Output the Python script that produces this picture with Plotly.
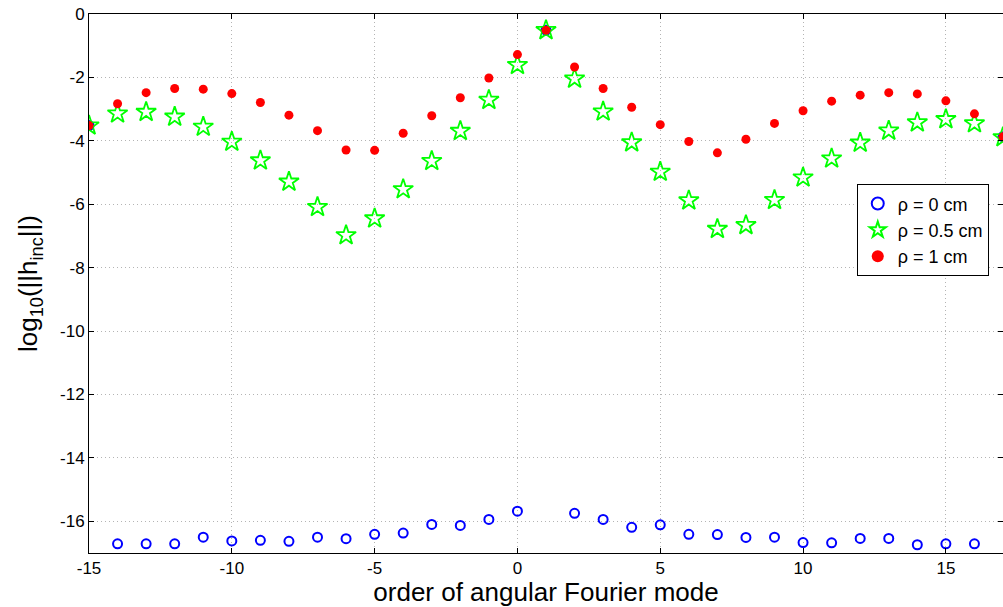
import plotly.graph_objects as go

modes = list(range(-15, 18))

rho0 = [-3.52, -16.71, -16.71, -16.71, -16.50, -16.62, -16.60, -16.63, -16.50, -16.55,
        -16.41, -16.37, -16.10, -16.13, -15.94, -15.68, -0.51, -15.75, -15.94, -16.19,
        -16.11, -16.41, -16.42, -16.51, -16.50, -16.67, -16.68, -16.54, -16.54, -16.74,
        -16.71, -16.71, -3.87]

rho05 = [-3.52, -3.14, -3.09, -3.24, -3.56, -4.03, -4.62, -5.29, -6.09, -6.98,
         -6.45, -5.53, -4.64, -3.69, -2.71, -1.61, -0.51, -2.04, -3.08, -4.05,
         -4.98, -5.88, -6.78, -6.66, -5.87, -5.16, -4.56, -4.06, -3.68, -3.42,
         -3.32, -3.45, -3.89]

rho1 = [-3.52, -2.83, -2.48, -2.35, -2.37, -2.51, -2.79, -3.19, -3.68, -4.29,
        -4.30, -3.76, -3.21, -2.64, -2.02, -1.28, -0.51, -1.67, -2.35, -2.94,
        -3.49, -4.02, -4.38, -3.95, -3.45, -3.05, -2.75, -2.56, -2.48, -2.52,
        -2.74, -3.15, -3.87]

xticks = [-15, -10, -5, 0, 5, 10, 15]
xticktext = ["-15", "-10", "-5", "0", "5", "10", "15"]
yticks = [0, -2, -4, -6, -8, -10, -12, -14, -16]
yticktext = ["0", "-2", "-4", "-6", "-8", "-10", "-12", "-14", "-16"]

FONT = "Liberation Sans, Arial, Helvetica, sans-serif"

fig = go.Figure()
fig.add_trace(go.Scatter(
    x=modes, y=rho0, mode="markers", name="ρ = 0 cm",
    marker=dict(symbol="circle-open", size=9, color="#0000ff", line=dict(width=2, color="#0000ff")),
))
fig.add_trace(go.Scatter(
    x=modes, y=rho05, mode="markers", name="ρ = 0.5 cm",
    marker=dict(symbol="star-open", size=15, color="#00ff00", line=dict(width=1.8, color="#00ff00")),
))
fig.add_trace(go.Scatter(
    x=modes, y=rho1, mode="markers", name="ρ = 1 cm",
    marker=dict(symbol="circle", size=9, color="#ff0000", line=dict(width=0)),
))

axis_common = dict(
    showline=True, linecolor="black", linewidth=1, mirror="ticks",
    ticks="inside", ticklen=5, tickcolor="black", tickwidth=1,
    showgrid=True, gridcolor="#b4b4b4", griddash="1px,3px", gridwidth=1,
    zeroline=False, tickfont=dict(family=FONT, size=17, color="black"),
)

fig.update_layout(
    width=1003, height=607,
    margin=dict(l=89, r=0, t=14, b=54),
    paper_bgcolor="white", plot_bgcolor="white",
    font=dict(family=FONT, color="black"),
    xaxis=dict(range=[-15, 17], tickvals=xticks, ticktext=xticktext,
               title=dict(text="order of angular Fourier mode", font=dict(family=FONT, size=26), standoff=0),
               **axis_common),
    yaxis=dict(range=[-17, 0], tickvals=yticks, ticktext=yticktext,
               title=dict(text="log<sub>10</sub>(||h<sub>inc</sub>||)", font=dict(family=FONT, size=26), standoff=14),
               **axis_common),
    legend=dict(x=0.840, y=0.684, xanchor="left", yanchor="top",
                bgcolor="white", bordercolor="black", borderwidth=1,
                font=dict(family=FONT, size=18), tracegroupgap=0,
                itemsizing="constant"),
    showlegend=True,
)

fig.write_html("out.html")
